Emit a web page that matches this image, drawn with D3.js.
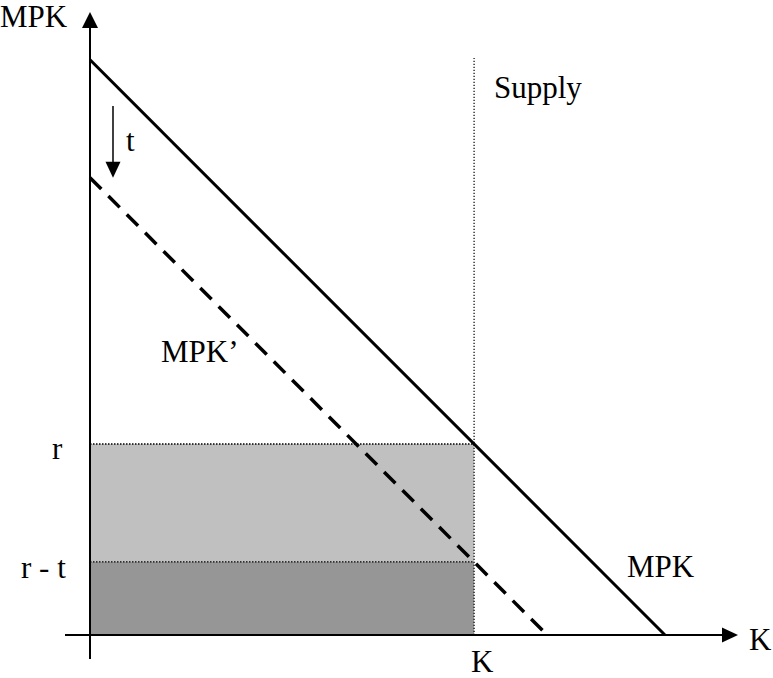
<!DOCTYPE html>
<html>
<head>
<meta charset="utf-8">
<script src="https://cdn.jsdelivr.net/npm/d3@7"></script>
<style>
  html, body { margin: 0; padding: 0; background: #fff; }
  svg { display: block; }
</style>
</head>
<body>
<script>
// ---- data (economic units) ----
const mpkIntercept = [10.0];          // MPK at K = 0
const taxShift = [2.05];              // t
const capitalSupply = [6.68];         // K (vertical supply)
const mpkKnots = [0, 10.0];           // MPK line K end points
const mpkPrimeKnots = [0, 7.95];      // MPK' line K end points
const yLabels = ["r", "r - t"];
const curveLabels = ["MPK", "MPK\u2019", "Supply"];
const axisLabels = ["MPK", "K"];

const W = 773, H = 678;
const FONT = "'Liberation Serif', Tinos, 'Times New Roman', Times, 'DejaVu Serif', serif";
const svg = d3.select("body").append("svg").attr("width", W).attr("height", H);

const x = d3.scaleLinear().domain([0, 11.27]).range([90, 738]);
const y = d3.scaleLinear().domain([0, 10.83]).range([635, 12]);

const t = taxShift[0];
const Ks = capitalSupply[0];
const r = mpkIntercept[0] - Ks;
const rt = r - t;

// shaded areas
svg.append("rect")
  .attr("x", x(0)).attr("y", y(r))
  .attr("width", x(Ks) - x(0)).attr("height", y(rt) - y(r))
  .attr("fill", "#c0c0c0");
svg.append("rect")
  .attr("x", x(0)).attr("y", y(rt))
  .attr("width", x(Ks) - x(0)).attr("height", y(0) - y(rt))
  .attr("fill", "#969696");

// dotted horizontal lines at r and r - t
[r, rt].forEach(v => {
  svg.append("line")
    .attr("x1", x(0)).attr("x2", x(Ks))
    .attr("y1", y(v)).attr("y2", y(v))
    .attr("stroke", "#000").attr("stroke-width", 1.3)
    .attr("stroke-dasharray", "1.5,1.5");
});

// supply line
svg.append("line")
  .attr("x1", x(Ks)).attr("x2", x(Ks))
  .attr("y1", y(0)).attr("y2", 58)
  .attr("stroke", "#000").attr("stroke-width", 1.2)
  .attr("stroke-dasharray", "1.2,1.8");

// MPK line
const line = d3.line().x(d => x(d[0])).y(d => y(d[1]));
svg.append("path")
  .datum(mpkKnots.map(k => [k, mpkIntercept[0] - k]))
  .attr("d", line)
  .attr("fill", "none").attr("stroke", "#000").attr("stroke-width", 3);

// MPK' dashed line
svg.append("path")
  .datum(mpkPrimeKnots.map(k => [k, mpkIntercept[0] - t - k]))
  .attr("d", line)
  .attr("fill", "none").attr("stroke", "#000").attr("stroke-width", 3.5)
  .attr("stroke-dasharray", "16,10");

// axes
svg.append("line")
  .attr("x1", x(0)).attr("x2", x(0))
  .attr("y1", 659).attr("y2", y(10.55))
  .attr("stroke", "#000").attr("stroke-width", 2);
svg.append("line")
  .attr("x1", 65).attr("x2", x(11.0))
  .attr("y1", y(0)).attr("y2", y(0))
  .attr("stroke", "#000").attr("stroke-width", 2);

// arrowheads
const yTop = y.range()[1], xEnd = x.range()[1];
svg.append("path")
  .attr("d", `M${x(0)},${yTop} L${x(0) - 8},${yTop + 16} L${x(0) + 8},${yTop + 16} Z`)
  .attr("fill", "#000");
svg.append("path")
  .attr("d", `M${xEnd},${y(0)} L${xEnd - 16},${y(0) - 7.5} L${xEnd - 16},${y(0) + 7.5} Z`)
  .attr("fill", "#000");

// t arrow
const ax = x(0.4);
svg.append("line")
  .attr("x1", ax).attr("x2", ax)
  .attr("y1", 106).attr("y2", y(mpkIntercept[0] - t) - 12)
  .attr("stroke", "#000").attr("stroke-width", 1.5);
const tip = y(mpkIntercept[0] - t);
svg.append("path")
  .attr("d", `M${ax},${tip} L${ax - 7.5},${tip - 16} L${ax + 7.5},${tip - 16} Z`)
  .attr("fill", "#000");

// text
function label(px, py, s) {
  svg.append("text").attr("x", px).attr("y", py)
    .attr("font-family", FONT).attr("font-size", 31).attr("fill", "#000")
    .text(s);
}
label(0, 27, axisLabels[0]);
label(749, 650, axisLabels[1]);
label(471, 672, axisLabels[1]);
label(126, 151, "t");
label(494, 98, curveLabels[2]);
label(161, 362, curveLabels[1]);
label(627, 577, curveLabels[0]);
label(52, y(r) + 15, yLabels[0]);
label(21, y(rt) + 16, yLabels[1]);
</script>
</body>
</html>
